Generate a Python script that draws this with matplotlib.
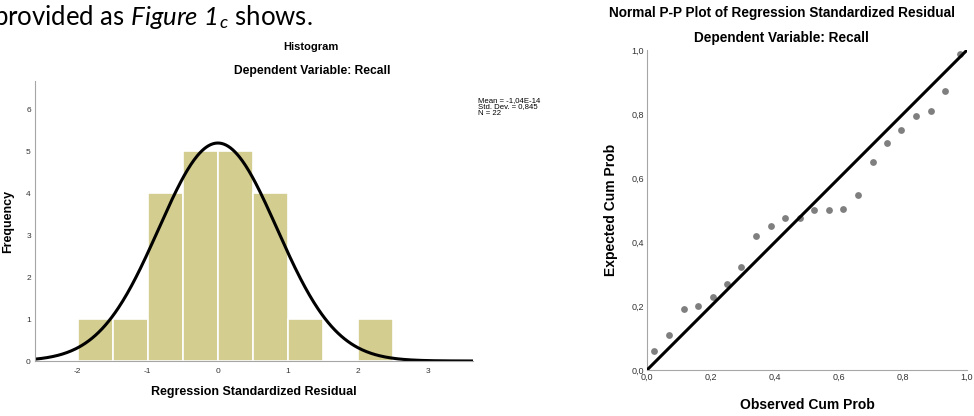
import numpy as np
import matplotlib.pyplot as plt

# residual histogram: bin edges and counts
bin_edges = [-2.0, -1.5, -1.0, -0.5, 0.0, 0.5, 1.0, 1.5, 2.0, 2.5]
counts = [1, 1, 4, 5, 5, 4, 1, 0, 1]
res_mean = -1.04e-14
res_sd = 0.845
n_obs = 22

# P-P plot points
observed = [0.023, 0.068, 0.114, 0.159, 0.205, 0.250, 0.295, 0.341, 0.386, 0.432, 0.477,
            0.523, 0.568, 0.614, 0.659, 0.705, 0.750, 0.795, 0.841, 0.886, 0.932, 0.977]
expected = [0.059, 0.110, 0.191, 0.201, 0.229, 0.268, 0.321, 0.420, 0.450, 0.474, 0.476,
            0.500, 0.500, 0.503, 0.547, 0.650, 0.710, 0.750, 0.794, 0.810, 0.872, 0.988]

pp_ticks = [0.0, 0.2, 0.4, 0.6, 0.8, 1.0]
pp_labels = ['0,0', '0,2', '0,4', '0,6', '0,8', '1,0']

plt.rcParams['font.family'] = ['Liberation Sans', 'DejaVu Sans']
# italic Lato for the inline figure reference (digits included)
plt.rcParams['mathtext.fontset'] = 'custom'
plt.rcParams['mathtext.rm'] = 'Lato:italic'
plt.rcParams['mathtext.it'] = 'Lato:italic'
spine_col = '#a6a6a6'
tick_col = '#333333'

fig = plt.figure(figsize=(9.74, 4.16), dpi=100)

# running document text above the charts
fig.text(-0.007, 0.957, 'provided as $\\mathit{Figure\\ 1_c}$ shows.', fontsize=18.5,
         family=['Lato', 'DejaVu Sans'], va='center', ha='left')

# --- histogram ---
ax1 = fig.add_axes([0.0359, 0.1322, 0.4497, 0.673])
widths = np.diff(bin_edges)
ax1.bar(bin_edges[:-1], counts, width=widths, align='edge', color='#d3cd8f',
        edgecolor='white', linewidth=1.2)
xs = np.linspace(-2.61, 3.64, 400)
scale = n_obs * widths[0]
curve = scale / (res_sd * np.sqrt(2 * np.pi)) * np.exp(-0.5 * ((xs - res_mean) / res_sd) ** 2)
ax1.plot(xs, curve, color='black', lw=2.2)
ax1.set_xlim(-2.61, 3.64)
ax1.set_ylim(0, 6.67)
ax1.set_xticks([-2, -1, 0, 1, 2, 3])
ax1.set_xticklabels(['-2', '-1', '0', '1', '2', '3'])
ax1.set_yticks(range(7))
for s in ['top', 'right']:
    ax1.spines[s].set_visible(False)
for s in ['left', 'bottom']:
    ax1.spines[s].set_color(spine_col)
ax1.tick_params(length=0, labelsize=6, colors=tick_col, pad=3)
ax1.tick_params(axis='x', pad=5)
ax1.set_xlabel('Regression Standardized Residual', fontsize=9, fontweight='bold', labelpad=8)
ax1.set_ylabel('Frequency', fontsize=9, fontweight='bold')
ax1.yaxis.set_label_coords((14 - 35) / 438, 0.5)
fig.text(311 / 974, 1 - 47 / 416, 'Histogram', fontsize=8, fontweight='bold', ha='center', va='center')
fig.text(312 / 974, 1 - 71 / 416, 'Dependent Variable: Recall', fontsize=8.7, fontweight='bold',
         ha='center', va='center')
fig.text(478 / 974, 1 - 107 / 416,
         'Mean = -1,04E-14\nStd. Dev. = 0,845\nN = 22',
         fontsize=5.6, ha='left', va='center', linespacing=0.9)

# --- normal P-P plot ---
ax2 = fig.add_axes([0.6643, 0.1106, 0.3285, 0.769])
ax2.scatter(observed, expected, s=24, color='#7f7f7f', zorder=2, linewidths=0)
ax2.plot([0, 1], [0, 1], color='black', lw=2.2, zorder=3, solid_capstyle='butt')
ax2.set_xlim(0, 1)
ax2.set_ylim(0, 1)
ax2.set_xticks(pp_ticks)
ax2.set_xticklabels(pp_labels)
ax2.set_yticks(pp_ticks)
ax2.set_yticklabels(pp_labels)
for s in ['top', 'right']:
    ax2.spines[s].set_visible(False)
for s in ['left', 'bottom']:
    ax2.spines[s].set_color(spine_col)
ax2.tick_params(length=0, labelsize=6.5, colors=tick_col, pad=2)
ax2.set_xlabel('Observed Cum Prob', fontsize=10, fontweight='bold', labelpad=12)
ax2.set_ylabel('Expected Cum Prob', fontsize=10, fontweight='bold', labelpad=10)
fig.text(782 / 974, 1 - 13 / 416, 'Normal P-P Plot of Regression Standardized Residual',
         fontsize=9.8, fontweight='bold', ha='center', va='center')
fig.text(781 / 974, 1 - 38 / 416, 'Dependent Variable: Recall', fontsize=9.8, fontweight='bold',
         ha='center', va='center')

fig.savefig('out.png', dpi=100)
